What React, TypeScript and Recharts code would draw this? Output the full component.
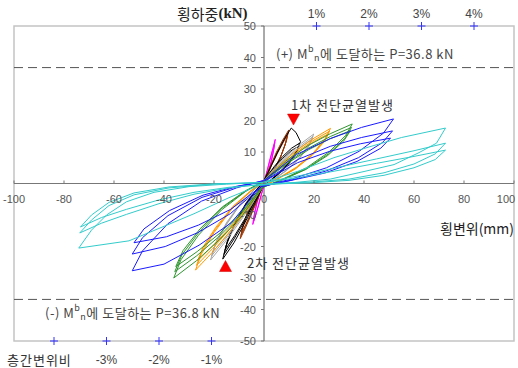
import { ScatterChart, Scatter, XAxis, YAxis, ReferenceLine, ReferenceArea } from "recharts";

type Pt = [number, number];

const W = 518;
const H = 368;
// axis band of 1px on left and bottom is added to these margins
const M = { top: 26, right: 4, bottom: 26, left: 13 };
const X0 = M.left + 1 + (W - M.left - 1 - M.right) / 2;
const Y0 = M.top + (H - M.top - M.bottom - 1) / 2;

const KR = "'Noto Sans CJK KR', sans-serif";
const NUM = "'Liberation Sans', Arial, sans-serif";

const xTicks = [-100, -80, -60, -40, -20, 0, 20, 40, 60, 80, 100];
const yTicks = [-50, -40, -30, -20, -10, 10, 20, 30, 40, 50];
const mnLoad = 36.8;

// story drift ratio marks (1% ~ 21 mm)
const driftTop = [
  { x: 21, y: 50, label: "1%" },
  { x: 42, y: 50, label: "2%" },
  { x: 63, y: 50, label: "3%" },
  { x: 84, y: 50, label: "4%" },
];
const driftBottom = [
  { x: -84, y: -50, label: "" },
  { x: -63, y: -50, label: "-3%" },
  { x: -42, y: -50, label: "-2%" },
  { x: -21, y: -50, label: "-1%" },
];

const crackMarks = [
  { x: 11.8, y: 20.3, dir: "down" },
  { x: -15.4, y: -26.2, dir: "up" },
];

// hysteresis loops, one array per displacement level
const magenta: Pt[] = [
  [0, 0.5], [1.2, 4], [2.4, 7.8], [3.5, 11], [4.5, 14], [4, 11.3], [3, 7.4], [1.8, 3.8], [0.5, 0.6],
  [-1.2, -4], [-2.4, -7.6], [-3.5, -10.6], [-4.5, -13], [-4, -10.2], [-3, -6.6], [-1.8, -3.2], [-0.5, -0.3],
  [0.2, 0.6], [1.3, 4], [2.4, 7.4], [3.4, 10.4], [4.3, 13], [3.8, 10.4], [2.8, 6.8], [1.6, 3.4], [0.4, 0.5],
  [-1.2, -3.7], [-2.3, -7.1], [-3.3, -9.9], [-4.2, -12], [-3.7, -9.4], [-2.8, -6.1], [-1.6, -2.9], [-0.4, -0.2], [0, 0.5],
];

const brown: Pt[] = [
  [0, 1], [2.5, 5.5], [5, 10], [7.5, 13.8], [9.9, 17], [9, 13.6], [7, 9.2], [4.5, 5], [1.5, 1.2],
  [-0.8, -1.5], [-3, -6], [-5.5, -10.6], [-7.6, -14.4], [-9.5, -17.5], [-8.6, -14], [-6.6, -9.4], [-4, -5], [-1.2, -1],
  [0.8, 1.6], [3, 6], [5.3, 10], [7.5, 13.2], [9.6, 16.2], [8.7, 12.9], [6.7, 8.6], [4.2, 4.6], [1.2, 1],
  [-1, -1.6], [-3.2, -6], [-5.5, -10.2], [-7.5, -13.6], [-9.2, -16.5], [-8.3, -13.2], [-6.4, -8.8], [-3.8, -4.6], [-1, -0.8],
  [0.8, 1.5], [3, 5.7], [5.3, 9.5], [7.4, 12.6], [9.3, 15.4], [8.4, 12.2], [6.5, 8.1], [4, 4.3], [1.1, 0.9],
  [-1, -1.5], [-3.2, -5.7], [-5.4, -9.7], [-7.3, -13], [-9, -15.6], [-8.1, -12.5], [-6.2, -8.3], [-3.6, -4.3], [-0.8, -0.6], [0, 0.5],
];

const black: Pt[] = [
  [0, 1], [2.8, 5.5], [5.5, 10], [8.2, 14.2], [10.9, 17.6], [12.8, 16.2], [14.6, 13.3], [13.4, 10.8], [10.5, 7.2], [6.5, 3.8], [2.5, 1],
  [-0.5, -1], [-4, -6.8], [-8, -13], [-12, -18.8], [-16.5, -24], [-15.2, -19.8], [-12, -13.6], [-7.5, -7], [-3, -2],
  [0.5, 1.5], [4, 5.3], [7.5, 8.6], [11, 11.2], [14.2, 12.8], [13.2, 10.4], [10.5, 7], [6.5, 3.6], [2.5, 0.8],
  [-0.8, -1.2], [-4.2, -6.5], [-8, -12.2], [-12, -17.6], [-16, -22.5], [-14.7, -18.4], [-11.6, -12.6], [-7.2, -6.4], [-2.8, -1.8],
  [0.5, 1.4], [4, 5], [7.5, 8], [10.8, 10.4], [13.8, 11.8], [12.8, 9.6], [10.2, 6.5], [6.3, 3.3], [2.4, 0.7],
  [-0.8, -1.1], [-4.1, -6.1], [-7.8, -11.4], [-11.7, -16.5], [-15.5, -21], [-14.2, -17.2], [-11.2, -11.8], [-7, -6], [-2.6, -1.6], [0, 0.5],
];

const gray: Pt[] = [
  [0, 1], [5, 5.6], [10, 9.4], [15, 12.8], [19.9, 15.7], [18.3, 12.8], [14.5, 8.6], [9.5, 4.6], [4, 1.4],
  [-0.5, -1], [-5.5, -7.4], [-10.8, -13.4], [-16, -19], [-21.4, -24.3], [-19.6, -19.8], [-15.5, -13.6], [-10, -7.2], [-4.2, -2.2],
  [0.5, 1.2], [5.4, 5.5], [10.2, 9], [15, 12.2], [19.6, 14.9], [18, 12.1], [14.2, 8.1], [9.2, 4.3], [3.8, 1.2],
  [-0.8, -1.2], [-5.8, -7.2], [-10.9, -12.9], [-16, -18.2], [-21, -23], [-19.2, -18.8], [-15.1, -12.9], [-9.7, -6.8], [-4, -2],
  [0.5, 1.1], [5.3, 5.2], [10.1, 8.6], [14.8, 11.6], [19.3, 14.2], [17.7, 11.5], [13.9, 7.7], [9, 4.1], [3.7, 1.1],
  [-0.8, -1.1], [-5.7, -6.9], [-10.7, -12.3], [-15.7, -17.3], [-20.6, -21.8], [-18.8, -17.8], [-14.8, -12.2], [-9.5, -6.4], [-3.8, -1.8], [0, 0.5],
];

const orange: Pt[] = [
  [0, 1], [6.5, 6], [13.2, 10.6], [20, 14.4], [26.6, 17.5], [24.6, 14.4], [19.8, 9.8], [13, 5.2], [5.5, 1.6],
  [-0.5, -1], [-7, -8.6], [-13.8, -15.4], [-20.6, -21.8], [-27.4, -27.5], [-25.2, -22.6], [-20, -15.6], [-13, -8.2], [-5.5, -2.6],
  [0.8, 1.3], [7.2, 6], [13.6, 10.3], [20, 13.8], [26.2, 16.6], [24.2, 13.6], [19.4, 9.2], [12.7, 4.8], [5.3, 1.4],
  [-0.8, -1.2], [-7.3, -8.3], [-13.9, -14.7], [-20.5, -20.6], [-27, -26], [-24.8, -21.3], [-19.6, -14.7], [-12.7, -7.7], [-5.3, -2.4],
  [0.8, 1.2], [7.1, 5.7], [13.4, 9.8], [19.7, 13.2], [25.8, 15.8], [23.8, 13], [19.1, 8.8], [12.5, 4.6], [5.2, 1.3],
  [-0.8, -1.1], [-7.2, -7.9], [-13.7, -14], [-20.2, -19.5], [-26.6, -24.6], [-24.4, -20.2], [-19.3, -13.9], [-12.5, -7.3], [-5.2, -2.2], [0, 0.5],
];

const green: Pt[] = [
  [0, 1], [8.5, 7], [17.5, 12], [26.5, 15.8], [35.3, 18.9], [32.6, 15.2], [26, 10], [17, 5], [7.5, 1.4],
  [-0.5, -1.2], [-9, -10.5], [-18, -18], [-27, -24.5], [-36.1, -30], [-33.2, -24.2], [-26.2, -16.4], [-17, -8.4], [-7.5, -2.6],
  [1, 1.4], [9.5, 6.8], [18, 11.3], [26.5, 14.9], [35, 17.8], [32.3, 14.3], [25.8, 9.4], [16.8, 4.6], [7.3, 1.2],
  [-1, -1.4], [-9.5, -10], [-18.2, -17], [-27, -23], [-35.7, -28], [-32.8, -22.6], [-25.9, -15.3], [-16.8, -7.8], [-7.3, -2.4],
  [1, 1.3], [9.4, 6.4], [17.8, 10.7], [26.2, 14.1], [34.6, 16.8], [31.9, 13.5], [25.5, 8.9], [16.6, 4.4], [7.2, 1.1],
  [-1, -1.3], [-9.4, -9.4], [-18, -16], [-26.7, -21.6], [-35.3, -26.4], [-32.4, -21.3], [-25.6, -14.4], [-16.6, -7.4], [-7.2, -2.2], [0, 0.5],
];

const blue: Pt[] = [
  [0, 1], [13, 9.2], [26.6, 14.3], [39, 17.8], [51.8, 20.5], [47.8, 16], [38, 10.2], [25, 5], [11, 1.4],
  [-1, -0.8], [-13, -12.4], [-26, -19.6], [-40, -25.6], [-52.7, -27.7], [-48.6, -21.4], [-38.5, -12.8], [-25, -5.6], [-11, -1.4],
  [1, 1.2], [13.5, 7.6], [26.5, 11.8], [39, 14.6], [51.4, 16.7], [47.4, 13], [37.8, 8.2], [24.6, 3.9], [10.6, 1],
  [-1, -1], [-13.5, -9.6], [-26.5, -15.6], [-39.5, -20], [-52.7, -22.4], [-48.6, -17.2], [-38.4, -10.2], [-24.8, -4.4], [-10.8, -1],
  [1, 1.1], [13.4, 6.6], [26.2, 10.2], [38.5, 12.6], [50.6, 14.4], [46.7, 11.2], [37.2, 7], [24.2, 3.3], [10.4, 0.9],
  [-1, -0.9], [-13.3, -8.2], [-26.2, -13.2], [-39, -16.9], [-52, -18.8], [-48, -14.4], [-37.8, -8.6], [-24.4, -3.7], [-10.6, -0.8], [0, 0.5],
];

const cyan: Pt[] = [
  [0, 0.5], [14, 4], [28, 8.2], [42, 11.6], [55, 14.6], [72.6, 17.6], [69, 12.8], [62, 9.8], [52, 6], [40, 3.8], [26.5, 1.4], [12, 0.3],
  [-2, -0.6], [-14, -4.5], [-28, -9.6], [-40, -13.6], [-54, -18.2], [-74.1, -20.5], [-69, -14.8], [-63, -10], [-55, -5.8], [-44, -2.8], [-30, -1], [-15, -0.2],
  [0, 0.4], [15, 2.6], [30, 5.2], [45, 7.8], [60, 10.4], [72.6, 12.8], [68.5, 9.4], [60, 6.2], [48, 3.4], [34, 1.4], [18, 0.4], [2, 0],
  [-14, -1.4], [-28, -3.4], [-42, -6.4], [-55, -9.8], [-65, -12.6], [-73.7, -15.7], [-69, -11.6], [-62, -7], [-52, -3.6], [-38, -1.4], [-20, -0.2],
  [0, 0.3], [15, 2], [30, 4.2], [45, 6.4], [60, 8.6], [72.6, 10.6], [68.5, 7.6], [60, 5], [48, 2.6], [34, 1], [18, 0.2], [2, -0.2],
  [-14, -1.2], [-28, -2.8], [-42, -5.2], [-55, -8.2], [-65, -10.8], [-73.4, -13.8], [-69, -10], [-62, -6], [-52, -3], [-38, -1.1], [-20, -0.1], [0, 0.3],
];

const loops = [
  { name: "magenta", color: "#ff00ff", pts: magenta },
  { name: "brown", color: "#993300", pts: brown },
  { name: "black", color: "#000000", pts: black },
  { name: "gray", color: "#a6a6a6", pts: gray },
  { name: "orange", color: "#ff9900", pts: orange },
  { name: "green", color: "#2f952f", pts: green },
  { name: "blue", color: "#1a1aff", pts: blue },
  { name: "cyan", color: "#33cccc", pts: cyan },
];

const toXY = (pts: Pt[]) => pts.map(([x, y]) => ({ x, y }));

const NoDot = () => <g />;

const XTick = (props: any) => {
  const { x, payload } = props;
  // keep the last label inside the picture
  const tx = Math.min(x, W - 12);
  return (
    <g>
      <line x1={x} x2={x} y1={Y0 - 3} y2={Y0} stroke="#777" />
      <text x={tx} y={Y0 + 15} textAnchor="middle" dominantBaseline="central" fontSize={11} fontFamily={NUM} fill="#555">
        {payload.value}
      </text>
    </g>
  );
};

const YTick = (props: any) => {
  const { y, payload } = props;
  return (
    <g>
      <line x1={X0 - 3} x2={X0} y1={y} y2={y} stroke="#777" />
      <text x={X0 - 8} y={y} textAnchor="end" dominantBaseline="central" fontSize={11} fontFamily={NUM} fill="#555">
        {payload.value}
      </text>
    </g>
  );
};

const DriftMark = (props: any) => {
  const { cx, cy } = props;
  const entry = props.payload ?? props;
  const top = entry.y > 0;
  return (
    <g>
      <line x1={cx - 4} x2={cx + 4} y1={cy} y2={cy} stroke="#3333ff" />
      <line x1={cx} x2={cx} y1={cy - 4} y2={cy + 4} stroke="#3333ff" />
      <text x={cx} y={top ? cy - 12 : cy + 19} textAnchor="middle" dominantBaseline="central" fontSize={12} fontFamily={NUM} fill="#444">
        {entry.label}
      </text>
    </g>
  );
};

const Triangle = (props: any) => {
  const { cx, cy } = props;
  const entry = props.payload ?? props;
  const pts =
    entry.dir === "down"
      ? `${cx - 6},${cy - 5.5} ${cx + 6},${cy - 5.5} ${cx},${cy + 5.5}`
      : `${cx - 6},${cy + 5.5} ${cx + 6},${cy + 5.5} ${cx},${cy - 5.5}`;
  return <polygon points={pts} fill="#ff0000" stroke="#cc0000" strokeWidth={0.5} />;
};

export default function App() {
  return (
    <div style={{ position: "absolute", left: 0, top: 0, width: W, height: H, background: "#fff" }}>
      <ScatterChart width={W} height={H} margin={M}>
        <XAxis
          type="number"
          dataKey="x"
          domain={[-100, 100]}
          ticks={xTicks}
          interval={0}
          height={1}
          axisLine={false}
          tickLine={false}
          tick={XTick}
        />
        <YAxis
          type="number"
          dataKey="y"
          domain={[-50, 50]}
          ticks={yTicks}
          interval={0}
          width={1}
          axisLine={false}
          tickLine={false}
          tick={YTick}
        />
        <ReferenceArea x1={-100} x2={100} y1={-50} y2={50} fill="#fff" fillOpacity={0} stroke="#c4c4c4" strokeWidth={1.5} />
        <ReferenceLine y={mnLoad} stroke="#555" strokeDasharray="9 5" />
        <ReferenceLine y={-mnLoad} stroke="#555" strokeDasharray="9 5" />
        <ReferenceLine y={0} stroke="#777" />
        <ReferenceLine x={0} stroke="#555" />
        {loops.map((s) => (
          <Scatter
            key={s.name}
            data={toXY(s.pts)}
            line={{ stroke: s.color, strokeWidth: 1 }}
            shape={NoDot}
            isAnimationActive={false}
          />
        ))}
        <Scatter data={crackMarks} shape={Triangle} isAnimationActive={false} />
        <Scatter data={driftTop} shape={DriftMark} isAnimationActive={false} />
        <Scatter data={driftBottom} shape={DriftMark} isAnimationActive={false} />
      </ScatterChart>
      <svg width={W} height={H} style={{ position: "absolute", left: 0, top: 0, pointerEvents: "none" }}>
        <text x={177} y={13} dominantBaseline="central" fontSize={15} fill="#222">
          <tspan fontFamily={KR}>횡하중</tspan>
          <tspan fontFamily="'Liberation Serif', serif" fontWeight="bold">(kN)</tspan>
        </text>
        <text x={440} y={228} dominantBaseline="central" fontSize={14} fontFamily={KR} fill="#222">
          횡변위(mm)
        </text>
        <text x={276} y={53} dominantBaseline="central" fontSize={13} letterSpacing={0.5} fontFamily={KR} fill="#444">
          (+) M<tspan dy={-5} fontSize={9}>b</tspan>
          <tspan dy={9} fontSize={9}>n</tspan>
          <tspan dy={-4}>에 도달하는 P=36.8 kN</tspan>
        </text>
        <text x={45} y={312} dominantBaseline="central" fontSize={13} letterSpacing={0.5} fontFamily={KR} fill="#444">
          (-) M<tspan dy={-5} fontSize={9}>b</tspan>
          <tspan dy={9} fontSize={9}>n</tspan>
          <tspan dy={-4}>에 도달하는 P=36.8 kN</tspan>
        </text>
        <text x={291} y={104} dominantBaseline="central" fontSize={13} letterSpacing={1} fontFamily={KR} fill="#333">
          1차 전단균열발생
        </text>
        <text x={247} y={262} dominantBaseline="central" fontSize={13} letterSpacing={1} fontFamily={KR} fill="#333">
          2차 전단균열발생
        </text>
        <text x={7} y={359} dominantBaseline="central" fontSize={13} letterSpacing={1} fontFamily={KR} fill="#333">
          층간변위비
        </text>
      </svg>
    </div>
  );
}
